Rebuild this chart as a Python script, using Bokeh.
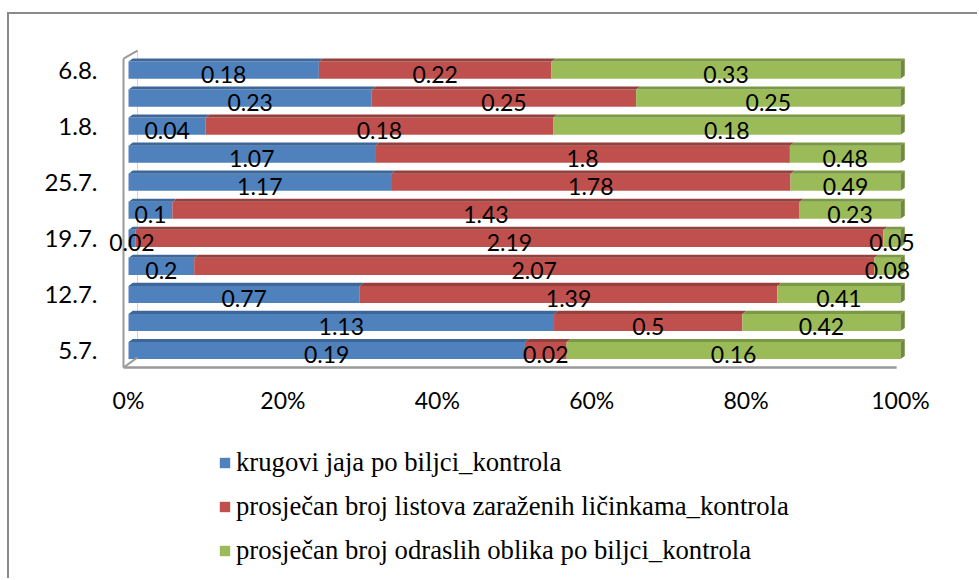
from bokeh.plotting import figure
from bokeh.models import ColumnDataSource, FixedTicker, Legend, LegendItem, NumeralTickFormatter, Range1d
from bokeh.core.properties import value
from bokeh.embed import file_html
from bokeh.resources import INLINE

# ---------------- data ----------------
dates = ["5.7.", "", "12.7.", "", "19.7.", "", "25.7.", "", "1.8.", "", "6.8."]
eggs = [0.19, 1.13, 0.77, 0.2, 0.02, 0.1, 1.17, 1.07, 0.04, 0.23, 0.18]
leaves = [0.02, 0.5, 1.39, 2.07, 2.19, 1.43, 1.78, 1.8, 0.18, 0.25, 0.22]
adults = [0.16, 0.42, 0.41, 0.08, 0.05, 0.23, 0.49, 0.48, 0.18, 0.25, 0.33]
series_names = [
    "krugovi jaja po biljci_kontrola",
    "prosječan broj listova zaraženih ličinkama_kontrola",
    "prosječan broj odraslih oblika po biljci_kontrola",
]
x_ticks = [0, 0.2, 0.4, 0.6, 0.8, 1.0]

# ---------------- style ----------------
front_colors = ["#4F81BD", "#C0504D", "#9BBB59"]
top_colors = ["#3D6799", "#94403D", "#7A9845"]
end_color = "#6F8A3A"
BAR_H = 0.61        # front face height (category units)
TOP_H = 0.11        # top face depth (category units)
TOP_DX = 0.0055     # top face skew (x units)
WALL_DX = 0.0117
WALL_DY = 0.29
FRONT_DX = -0.0065
FLOOR_Y = -0.606

n = len(dates)
ys = list(range(n))
series = [eggs, leaves, adults]
totals = [sum(v) for v in zip(*series)]

p = figure(width=970, height=566, output_backend="svg", toolbar_location=None,
           x_range=Range1d(-0.03109, 1.05181), y_range=Range1d(-8.13, 10.77),
           min_border_left=95, min_border_right=39, min_border_top=34, min_border_bottom=2)
p.styles = {"border-top": "2px solid #8a8a8a", "border-left": "2px solid #8a8a8a",
            "margin-left": "7px", "margin-top": "12px"}
p.xgrid.visible = False
p.ygrid.visible = False
p.outline_line_color = None
p.background_fill_color = "white"
p.border_fill_color = "white"

# 3D walls: back wall edge (behind bars), then front edges and floor
wall_top = n - 1 + BAR_H / 2 + 0.1
p.segment(x0=[WALL_DX], y0=[wall_top + WALL_DY], x1=[WALL_DX], y1=[FLOOR_Y + 0.36],
          line_color="#d4d4d4", line_width=1)
p.segment(x0=[FRONT_DX, FRONT_DX, FRONT_DX, FRONT_DX],
          y0=[FLOOR_Y, FLOOR_Y, wall_top, FLOOR_Y],
          x1=[FRONT_DX, 1 - 0.005, WALL_DX, WALL_DX],
          y1=[wall_top, FLOOR_Y, wall_top + WALL_DY, FLOOR_Y + 0.36],
          line_color="#9a9a9a", line_width=[2, 2.5, 2, 2], level="annotation")

# bars
left = [0.0] * n
renderers = []
label_x, label_y, label_t = [], [], []
top_xs, top_ys, top_c = [], [], []
for k, vals in enumerate(series):
    shares = [v / t for v, t in zip(vals, totals)]
    right = [l + s for l, s in zip(left, shares)]
    src = ColumnDataSource(dict(y=ys, left=left, right=right))
    r = p.hbar(y="y", left="left", right="right", height=BAR_H, source=src,
               fill_color=front_colors[k], line_color=None)
    renderers.append(r)
    for i in range(n):
        label_x.append((left[i] + right[i]) / 2)
        label_y.append(i - 0.14)
        label_t.append(str(vals[i]))
        yt = i + BAR_H / 2
        top_xs.append([left[i], right[i], right[i] + TOP_DX, left[i] + TOP_DX])
        top_ys.append([yt, yt, yt + TOP_H, yt + TOP_H])
        top_c.append(top_colors[k])
    left = right

p.patches(xs=top_xs, ys=top_ys, fill_color=top_c, line_color=None)

end_xs, end_ys = [], []
for i in range(n):
    yb, yt = i - BAR_H / 2, i + BAR_H / 2
    end_xs.append([1, 1 + TOP_DX, 1 + TOP_DX, 1])
    end_ys.append([yb, yb + TOP_H, yt + TOP_H, yt])
p.patches(xs=end_xs, ys=end_ys, fill_color=end_color, line_color=None)

p.text(x=label_x, y=label_y, text=label_t, text_align="center", text_baseline="middle",
       text_font=value("Lato"), text_font_size="23px", text_color="black", level="annotation")

# axes
p.xaxis.ticker = FixedTicker(ticks=x_ticks)
p.xaxis.formatter = NumeralTickFormatter(format="0%")
p.xaxis.fixed_location = FLOOR_Y
p.yaxis.ticker = FixedTicker(ticks=[i for i, d in enumerate(dates) if d])
p.yaxis.major_label_overrides = {i: d for i, d in enumerate(dates) if d}
for ax in (p.xaxis[0], p.yaxis[0]):
    ax.axis_line_color = None
    ax.major_tick_line_color = None
    ax.minor_tick_line_color = None
    ax.major_label_text_font = "Lato"
    ax.major_label_text_font_size = "23px"
    ax.major_label_text_color = "black"
p.yaxis.major_label_text_font_size = "24px"
p.xaxis.major_label_standoff = 12
p.yaxis.major_label_standoff = 1

legend = Legend(items=[LegendItem(label=name, renderers=[r]) for name, r in zip(series_names, renderers)],
                location=(114, 12), orientation="vertical",
                glyph_width=13, glyph_height=13, label_standoff=5, spacing=13,
                padding=0, margin=0, border_line_color=None, background_fill_alpha=0,
                label_text_font="Liberation Serif", label_text_font_size="26.7px",
                label_text_color="black")
p.add_layout(legend)

open("out.html", "w").write(file_html(p, INLINE))
